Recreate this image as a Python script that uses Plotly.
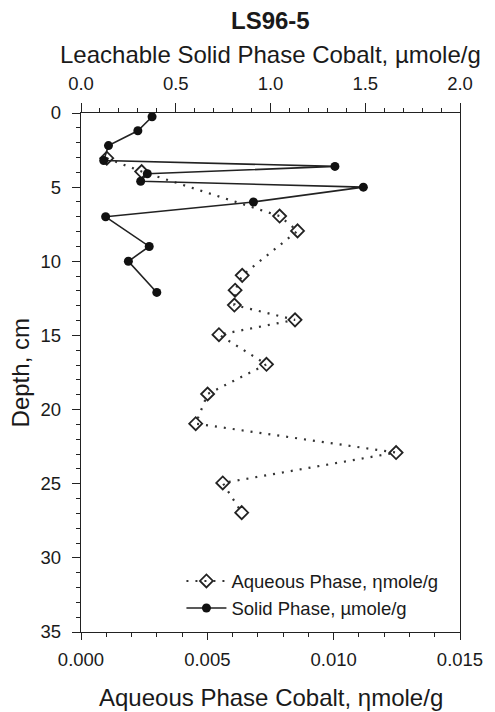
import plotly.graph_objects as go

# Solid phase (top axis, µmole/g)
solid_depth = [0.25, 1.2, 2.2, 3.2, 3.6, 4.1, 4.6, 5.0, 6.0, 7.0, 9.0, 10.0, 12.1]
solid_val = [0.375, 0.30, 0.145, 0.12, 1.34, 0.35, 0.315, 1.49, 0.91, 0.13, 0.36, 0.25, 0.40]

# Aqueous phase (bottom axis, ηmole/g)
aq_depth = [3.05, 3.95, 6.95, 7.95, 10.95, 11.95, 12.95, 13.95, 14.95, 16.95, 18.95, 20.95, 22.9, 24.95, 26.95]
aq_val = [0.00102, 0.0024, 0.00786, 0.00857, 0.00638, 0.0061, 0.00607, 0.00847, 0.00546,
          0.00734, 0.00501, 0.00454, 0.01247, 0.00561, 0.00636]

FONT = "Liberation Sans, Arial, sans-serif"
TXT = "#1a1a1a"
TICK_SIZE = 18.5
TITLE_SIZE = 24

fig = go.Figure()
fig.add_trace(go.Scatter(
    x=aq_val, y=aq_depth, name="Aqueous Phase, \u03b7mole/g", xaxis="x", yaxis="y",
    mode="lines+markers",
    line=dict(color="#333333", width=2.2, dash="2px,7px"),
    marker=dict(symbol="diamond-open", size=10, color="#222222", line=dict(width=1.8, color="#222222")),
))
fig.add_trace(go.Scatter(
    x=solid_val, y=solid_depth, name="Solid Phase, \u00b5mole/g", xaxis="x2", yaxis="y",
    mode="lines+markers",
    line=dict(color="#222222", width=1.6),
    marker=dict(symbol="circle", size=9, color="#111111"),
))

def axis_common(ticklen, standoff):
    return dict(showgrid=False, zeroline=False, showline=True, linecolor="#222", linewidth=1.3,
                ticks="outside", tickcolor="#222", ticklen=ticklen, tickwidth=1.3,
                ticklabelstandoff=standoff,
                tickfont=dict(family=FONT, size=TICK_SIZE, color=TXT))

def ann(text, x, y, angle=0):
    return dict(text=text, x=x, y=y, xref="paper", yref="paper", xanchor="center", yanchor="middle",
                textangle=angle, showarrow=False, font=dict(family=FONT, size=TITLE_SIZE, color=TXT))

fig.update_layout(
    width=495, height=712,
    margin=dict(l=81, r=23, t=113, b=80),
    paper_bgcolor="white", plot_bgcolor="white",
    font=dict(family=FONT, color=TXT),
    showlegend=True,
    legend=dict(x=0.265, y=0.134, xanchor="left", yanchor="top", bgcolor="rgba(0,0,0,0)",
                font=dict(family=FONT, size=18.5, color=TXT), tracegroupgap=0, itemwidth=40),
    xaxis=dict(range=[0, 0.015], tickvals=[0, 0.005, 0.010, 0.015],
               ticktext=["0.000", "0.005", "0.010", "0.015"], mirror=False,
               minor=dict(dtick=0.001, ticks="outside", ticklen=4, tickcolor="#222"),
               **axis_common(7, 4)),
    xaxis2=dict(range=[0, 2.0], overlaying="x", side="top", anchor="y",
                tickvals=[0, 0.5, 1.0, 1.5, 2.0], ticktext=["0.0", "0.5", "1.0", "1.5", "2.0"],
                minor=dict(dtick=0.1, ticks="outside", ticklen=4, tickcolor="#222"),
                **axis_common(9, 5)),
    yaxis=dict(range=[35, 0], tickvals=[0, 5, 10, 15, 20, 25, 30, 35], mirror=True,
               minor=dict(dtick=1, ticks="outside", ticklen=4, tickcolor="#222"),
               **axis_common(8, 7)),
    annotations=[
        ann("<b>LS96-5</b>", 0.5, (632 - 21) / 519),
        ann("Leachable Solid Phase Cobalt, \u00b5mole/g", 0.5, (632 - 54) / 519),
        ann("Aqueous Phase Cobalt, \u03b7mole/g", 0.5, (632 - 697) / 519),
        ann("Depth, cm", (19 - 81) / 391, 0.5, -90),
    ],
)

fig.write_html("out.html")
